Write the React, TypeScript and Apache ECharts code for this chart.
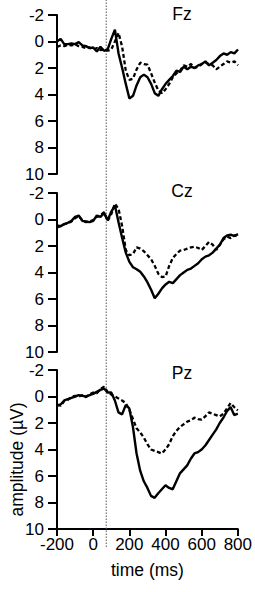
import React, { useEffect, useRef } from "react";
import * as echarts from "echarts";

const timeMs = [
  -200, -180, -160, -140, -120, -100, -80, -60, -40, -20, 0, 20, 40, 60, 80, 100, 120, 140, 160, 180, 200,
  220, 240, 260, 280, 300, 320, 340, 360, 380, 400, 420, 440, 460, 480, 500, 520, 540, 560, 580, 600,
  620, 640, 660, 680, 700, 720, 740, 760, 780, 800,
];

const fzSolid = [
  0.0, -0.2, 0.2, 0.2, 0.15, 0.2, 0.05, 0.3, 0.35, 0.5, 0.45, 0.75, 0.4, 0.7, 0.6, -0.2, -0.9, 0.9, 2.0, 3.2, 4.3,
  4.1, 3.3, 2.7, 2.5, 2.7, 3.2, 3.9, 4.1, 3.6, 3.2, 2.9, 2.6, 2.2, 2.3, 1.9, 2.1, 1.9, 2.0, 1.8, 1.7,
  1.5, 1.8, 1.6, 1.4, 1.1, 0.9, 1.0, 0.8, 0.9, 0.6,
];
const fzDashed = [
  0.4, 0.3, 0.35, 0.25, 0.3, 0.2, 0.35, 0.4, 0.5, 0.45, 0.6, 0.5, 0.65, 0.6, 0.7, 0.6, 0.0, -0.65, 0.4, 2.2, 2.9,
  2.8, 2.1, 1.6, 1.7, 1.75, 2.4, 3.1, 3.7, 3.9, 3.6, 3.2, 2.7, 2.4, 2.2, 1.8, 1.9, 1.7, 2.0, 1.9, 1.7,
  1.6, 1.7, 1.8, 2.1, 1.9, 1.7, 1.5, 1.6, 1.5, 1.8,
];
const czSolid = [
  0.45, 0.5, 0.35, 0.25, 0.1, -0.2, -0.3, 0.1, 0.15, 0.2, 0.1, -0.3, -0.2, -0.5, 0.05, -0.6, -1.05, 0.2, 1.4, 2.5, 3.2,
  3.6, 3.75, 3.95, 4.3, 4.75, 5.3, 5.95, 5.6, 5.2, 4.9, 4.7, 4.8, 4.5, 4.2, 4.0, 3.8, 3.7, 3.5, 3.3, 3.0,
  2.8, 2.7, 2.5, 2.2, 1.9, 1.4, 1.2, 1.15, 1.25, 1.1,
];
const czDashed = [
  0.6, 0.5, 0.35, 0.3, 0.15, -0.1, -0.25, 0.05, 0.2, 0.15, 0.05, -0.2, -0.3, -0.55, 0.1, -0.4, -1.2, -0.8, 0.5, 2.3, 2.7,
  2.6, 2.1, 2.2, 2.4, 2.7, 3.0, 3.5, 4.1, 4.35, 4.3, 3.5, 2.9, 2.6, 2.35, 2.3, 2.2, 2.1, 2.05, 2.15, 2.3,
  2.0, 1.7, 1.9, 2.3, 1.9, 1.5, 1.3, 1.4, 1.2, 1.3,
];
const pzSolid = [
  0.7, 0.6, 0.3, 0.2, 0.1, 0.0, -0.1, -0.05, 0.0, -0.1, -0.2, -0.35, -0.5, -0.6, -0.3, -0.3, 0.3, 1.2, 1.35, 0.65, 0.9,
  2.3, 4.3, 5.6, 6.4, 6.9, 7.5, 7.65, 7.3, 7.0, 6.7, 6.9, 7.0, 6.4, 5.8, 5.5, 5.2, 4.7, 4.3, 4.2, 4.0,
  3.7, 3.3, 2.9, 2.5, 2.0, 1.6, 1.1, 0.8, 1.4, 1.3,
];
const pzDashed = [
  0.6, 0.7, 0.35, 0.25, 0.05, -0.05, 0.0, -0.1, 0.05, -0.15, -0.3, -0.25, -0.55, -0.75, -0.35, -0.15, 0.0, 0.15, 0.3, 0.5, 1.0,
  1.7, 2.4, 2.7, 3.1, 3.6, 4.0, 4.1, 4.2, 4.3, 4.0, 3.6, 3.0, 2.6, 2.3, 2.1, 1.9, 1.8, 1.6, 1.7, 1.75,
  1.5, 1.2, 1.3, 1.4, 1.5, 1.3, 0.9, 0.5, 0.8, 1.05,
];

const panelNames = ["Fz", "Cz", "Pz"];
const stimulusOnset = 72;
const xTicks = { min: -200, max: 800, interval: 200 };
const yTicks = { min: -2, max: 10, interval: 2 };

const FONT = "'Liberation Sans', Arial, Helvetica, sans-serif";
const FS = 17;

function pairs(vals: number[]) {
  return timeMs.map((t, i) => [t, vals[i]]);
}

export default function App() {
  const ref = useRef<HTMLDivElement>(null);
  useEffect(() => {
    if (!ref.current) return;
    const chart = echarts.init(ref.current, undefined, { renderer: "svg" });
    const panelTops = [15, 193, 370];
    const grids: any[] = panelTops.map((top) => ({ left: 57, top, width: 181, height: 159 }));
    grids.push({ left: 57, top: 0, width: 181, height: 547 });

    const xAxes: any[] = [0, 1, 2, 3].map((i) => ({
      type: "value",
      gridIndex: i,
      min: xTicks.min,
      max: xTicks.max,
      interval: xTicks.interval,
      show: i === 2,
      axisLine: { show: true, onZero: false, lineStyle: { color: "#000", width: 2 } },
      axisTick: { show: true, length: 7, lineStyle: { color: "#000", width: 2 } },
      axisLabel: { color: "#000", fontSize: FS, fontFamily: FONT, margin: 7 },
      splitLine: { show: false },
      name: i === 2 ? "time (ms)" : "",
      nameLocation: "middle",
      nameGap: 32,
      nameTextStyle: { color: "#000", fontSize: 17.5, fontFamily: FONT },
    }));
    const yAxes: any[] = [0, 1, 2].map((i) => ({
      type: "value",
      gridIndex: i,
      inverse: true,
      min: yTicks.min,
      max: yTicks.max,
      interval: yTicks.interval,
      axisLine: { show: true, onZero: false, lineStyle: { color: "#000", width: 2 } },
      axisTick: { show: true, length: 9, lineStyle: { color: "#000", width: 2 } },
      axisLabel: { color: "#000", fontSize: FS, fontFamily: FONT, margin: 13 },
      splitLine: { show: false },
    }));
    yAxes.push({ type: "value", gridIndex: 3, min: 0, max: 1, show: false });

    const solids = [fzSolid, czSolid, pzSolid];
    const dashes = [fzDashed, czDashed, pzDashed];
    const series: any[] = [];
    series.push({
      type: "line",
      xAxisIndex: 3,
      yAxisIndex: 3,
      data: [
        [stimulusOnset, 0],
        [stimulusOnset, 1],
      ],
      showSymbol: false,
      symbol: "none",
      lineStyle: { color: "#555", width: 1, type: [1.5, 1.5] },
      z: 1,
    });
    for (let i = 0; i < 3; i++) {
      series.push({
        type: "line",
        xAxisIndex: i,
        yAxisIndex: i,
        data: pairs(dashes[i]),
        symbol: "none",
        lineStyle: { color: "#000", width: 2.3, type: [4, 2.5] },
        z: 3,
      });
      series.push({
        type: "line",
        xAxisIndex: i,
        yAxisIndex: i,
        data: pairs(solids[i]),
        symbol: "none",
        lineStyle: { color: "#000", width: 2.4 },
        z: 4,
      });
    }

    const titleYs = [14, 191, 373];
    const graphic: any[] = panelNames.map((n, i) => ({
      type: "text",
      x: 182,
      y: titleYs[i],
      style: {
        text: n,
        fill: "#000",
        fontSize: 17.5,
        fontFamily: FONT,
        textAlign: "center",
        textVerticalAlign: "middle",
      },
    }));
    graphic.push({
      type: "text",
      x: 16.5,
      y: 459.5,
      rotation: Math.PI / 2,
      style: {
        text: "amplitude (µV)",
        fill: "#000",
        fontSize: 17.5,
        fontFamily: FONT,
        textAlign: "center",
        textVerticalAlign: "middle",
      },
    });

    chart.setOption({
      animation: false,
      backgroundColor: "#fff",
      grid: grids,
      xAxis: xAxes,
      yAxis: yAxes,
      series,
      graphic,
    });
    return () => chart.dispose();
  }, []);
  return (
    <div
      ref={ref}
      style={{ position: "absolute", left: 0, top: 0, width: 255, height: 592 }}
    />
  );
}
